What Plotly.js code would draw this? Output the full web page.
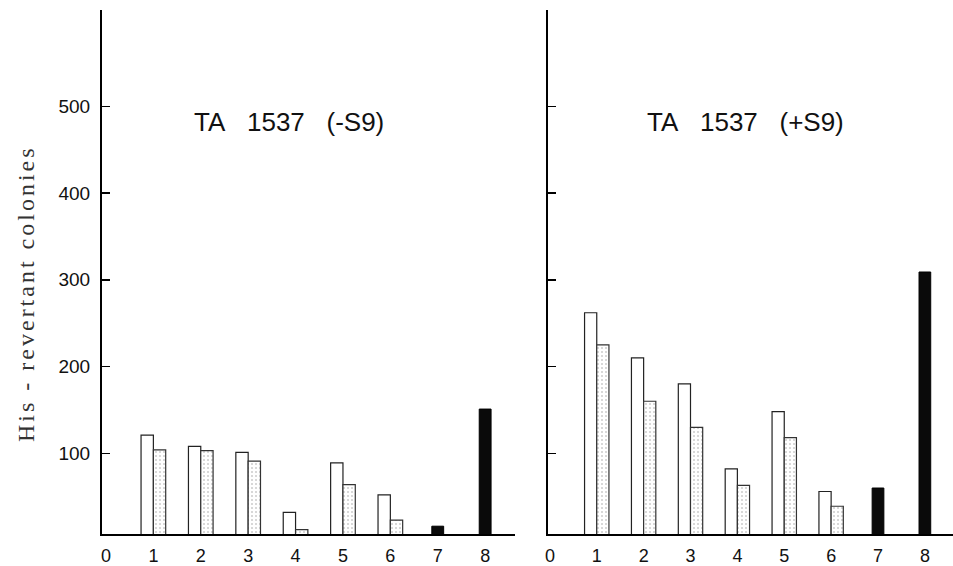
<!DOCTYPE html>
<html>
<head>
<meta charset="utf-8">
<script src="https://cdn.plot.ly/plotly-3.0.1.min.js"></script>
<style>
html,body{margin:0;padding:0;background:#fff;}
#chart{width:953px;height:566px;}
g.annotation[data-index="2"] text{letter-spacing:3px;}
</style>
</head>
<body>
<div id="chart"></div>
<script>
// ---- data ----
const groups = [1, 2, 3, 4, 5, 6];
const blackGroups = [7, 8];
const tickCats = [0, 1, 2, 3, 4, 5, 6, 7, 8];
const yTicks = [100, 200, 300, 400, 500];

// TA 1537 (-S9)
const whiteMinus = [121, 108, 101, 32, 89, 52];
const dotMinus   = [104, 103, 91, 12, 64, 23];
const blackMinus = [16, 151];

// TA 1537 (+S9)
const whitePlus = [262, 210, 180, 82, 148, 56];
const dotPlus   = [225, 160, 130, 63, 118, 39];
const blackPlus = [60, 309];

const titleMinus = "TA\u00a0\u00a0\u00a01537\u00a0\u00a0\u00a0(-S9)";
const titlePlus  = "TA\u00a0\u00a0\u00a01537\u00a0\u00a0\u00a0(+S9)";
const yTitle = "His - revertant colonies";

// ---- styling ----
const BW = 0.26;
function whiteTrace(y, xa, ya) {
  return {type: 'bar', x: groups, y: y, xaxis: xa, yaxis: ya, width: BW, offset: -BW,
    marker: {color: '#ffffff', line: {color: '#222', width: 1.2}}, showlegend: false, hoverinfo: 'y'};
}
function dotTrace(y, xa, ya) {
  return {type: 'bar', x: groups, y: y, xaxis: xa, yaxis: ya, width: BW, offset: 0,
    marker: {color: '#ffffff', line: {color: '#333', width: 1.2},
      pattern: {shape: '.', fgcolor: '#cccccc', bgcolor: '#ffffff', size: 4, solidity: 0.2}},
    showlegend: false, hoverinfo: 'y'};
}
function blackTrace(y, xa, ya) {
  return {type: 'bar', x: blackGroups, y: y, xaxis: xa, yaxis: ya, width: 0.25, offset: -0.125,
    marker: {color: '#0a0a0a', line: {color: '#000', width: 1}}, showlegend: false, hoverinfo: 'y'};
}

const data = [
  whiteTrace(whiteMinus, 'x', 'y'), dotTrace(dotMinus, 'x', 'y'), blackTrace(blackMinus, 'x', 'y'),
  whiteTrace(whitePlus, 'x2', 'y2'), dotTrace(dotPlus, 'x2', 'y2'), blackTrace(blackPlus, 'x2', 'y2')
];

const W = 953, H = 566;
const yBase = 534, yTop = 10;
const tickFontX = {family: 'Liberation Sans, Arial, sans-serif', size: 18, color: '#111'};
const tickFontY = {family: 'Liberation Sans, Arial, sans-serif', size: 19, color: '#111'};

function xAxis(domain, range) {
  return {domain: domain, range: range, tickmode: 'array', tickvals: tickCats, ticktext: tickCats.map(String),
    ticks: '', showgrid: false, zeroline: false, showline: true, linecolor: '#000', linewidth: 1.5,
    tickfont: tickFontX, ticklabelstandoff: 5, fixedrange: true};
}
function yAxis(domain, showLabels, anchor) {
  return {domain: domain, range: [7, 611], tickmode: 'array', tickvals: yTicks,
    ticktext: yTicks.map(String), showticklabels: showLabels, anchor: anchor,
    ticks: 'inside', ticklen: 8, tickwidth: 1.5, tickcolor: '#000',
    showgrid: false, zeroline: false, showline: true, linecolor: '#000', linewidth: 2,
    tickfont: tickFontY, ticklabelstandoff: 6, fixedrange: true};
}

const yDom = [(H - yBase) / H, (H - yTop) / H];
const layout = {
  width: W, height: H,
  margin: {l: 0, r: 0, t: 0, b: 0, pad: 0},
  paper_bgcolor: '#fff', plot_bgcolor: '#fff',
  barmode: 'overlay',
  xaxis: xAxis([102 / W, 515 / W], [-0.084, 8.63]),
  yaxis: yAxis(yDom, true, 'x'),
  xaxis2: Object.assign(xAxis([548 / W, 1], [-0.04, 8.6]), {anchor: 'y2'}),
  yaxis2: yAxis(yDom, false, 'x2'),
  annotations: [
    {text: titleMinus, xref: 'paper', yref: 'paper', x: 289 / W, y: (H - 122) / H, showarrow: false,
      xanchor: 'center', yanchor: 'middle', font: {family: 'Liberation Sans, Arial, sans-serif', size: 26, color: '#111'}},
    {text: titlePlus, xref: 'paper', yref: 'paper', x: 745 / W, y: (H - 122) / H, showarrow: false,
      xanchor: 'center', yanchor: 'middle', font: {family: 'Liberation Sans, Arial, sans-serif', size: 26, color: '#111'}},
    {text: yTitle, xref: 'paper', yref: 'paper', x: 26 / W, y: (H - 294) / H, showarrow: false, textangle: -90,
      xanchor: 'center', yanchor: 'middle', font: {family: 'Liberation Serif, Times New Roman, serif', size: 24, color: '#333'}}
  ]
};

Plotly.newPlot('chart', data, layout, {staticPlot: true, displayModeBar: false});
</script>
</body>
</html>
